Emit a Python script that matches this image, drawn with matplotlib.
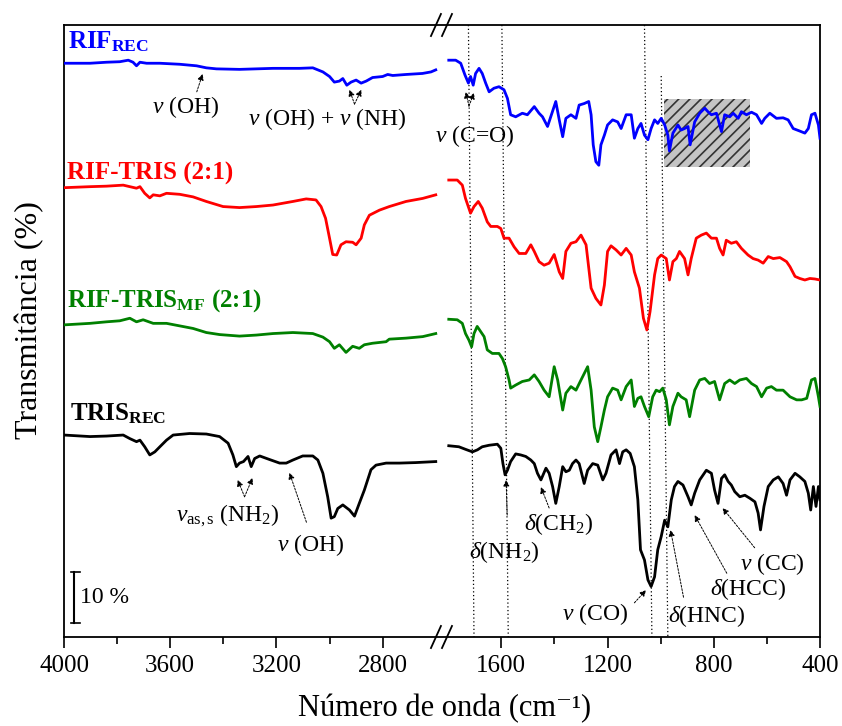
import numpy as np
import matplotlib
matplotlib.use('Agg')
import matplotlib.pyplot as plt
import matplotlib.ticker as mticker
from matplotlib.patches import Rectangle

plt.rcParams['font.family'] = ['Liberation Serif', 'DejaVu Serif']
plt.rcParams['mathtext.fontset'] = 'custom'
plt.rcParams['mathtext.rm'] = 'Liberation Serif'
plt.rcParams['mathtext.it'] = 'Liberation Serif:italic'
plt.rcParams['mathtext.bf'] = 'Liberation Serif:bold'
plt.rcParams['hatch.linewidth'] = 1.2

# ---- spectra: wavenumber (cm-1) and transmittance (%) ----
# high range 4000-2600
rif_hi_wn = [4000, 3902, 3840, 3790, 3758, 3740, 3727, 3714, 3689, 3639, 3564, 3501, 3464, 3426, 3339, 3213,
             3113, 3063, 3025, 3000, 2982, 2963, 2950, 2935, 2919, 2900, 2881, 2862, 2838, 2800, 2781, 2762,
             2712, 2650, 2618, 2600]
rif_hi_t = [100.5, 100.5, 100.7, 100.8, 101.1, 100.7, 100.0, 100.7, 100.5, 100.5, 100.3, 100.0, 99.6, 99.4,
            99.3, 99.5, 99.5, 99.6, 98.8, 97.9, 96.8, 97.0, 97.5, 96.2, 96.8, 97.2, 96.6, 97.0, 97.7, 97.9,
            98.3, 98.1, 98.3, 98.5, 98.8, 99.2]

mix_hi_wn = [4000, 3902, 3840, 3777, 3752, 3727, 3714, 3696, 3677, 3664, 3639, 3614, 3564, 3514, 3464, 3401,
             3339, 3276, 3213, 3138, 3088, 3051, 3032, 3015, 3000, 2988, 2973, 2957, 2938, 2913, 2900, 2881,
             2869, 2850, 2812, 2775, 2712, 2649, 2600]
mix_hi_t = [100.1, 100.3, 100.4, 100.6, 100.3, 100.0, 100.3, 99.0, 98.1, 98.7, 98.5, 99.0, 98.8, 98.3, 97.4,
            96.4, 96.2, 96.4, 96.7, 97.4, 97.9, 97.7, 96.4, 94.1, 90.2, 87.0, 86.9, 88.9, 89.5, 89.4, 88.9,
            90.2, 92.8, 94.7, 95.7, 96.4, 97.4, 98.0, 98.7]

mf_hi_wn = [4000, 3902, 3840, 3790, 3752, 3727, 3702, 3664, 3614, 3564, 3514, 3464, 3414, 3339, 3276, 3213,
            3138, 3063, 3025, 3000, 2982, 2963, 2938, 2913, 2888, 2869, 2838, 2787, 2775, 2712, 2649, 2600]
mf_hi_t = [100.2, 100.5, 100.8, 101.0, 101.5, 100.8, 101.2, 100.5, 100.5, 100.0, 99.5, 98.7, 98.3, 98.0, 98.2,
           98.5, 98.7, 98.5, 97.8, 96.9, 95.6, 96.3, 94.8, 96.0, 95.6, 96.3, 96.6, 96.9, 97.4, 97.6, 97.9, 98.5]

tris_hi_wn = [4000, 3902, 3840, 3777, 3752, 3727, 3714, 3696, 3677, 3658, 3639, 3614, 3589, 3527, 3464, 3414,
              3382, 3364, 3351, 3339, 3324, 3307, 3295, 3282, 3263, 3226, 3188, 3163, 3138, 3101, 3063, 3044,
              3025, 3007, 2994, 2982, 2969, 2950, 2925, 2906, 2888, 2869, 2844, 2825, 2787, 2737, 2675, 2600]
tris_hi_t = [99.6, 99.3, 99.4, 99.6, 98.9, 98.3, 98.6, 97.3, 95.7, 96.3, 97.3, 98.6, 99.6, 99.9, 99.8, 99.3,
             98.0, 95.7, 93.4, 94.1, 94.4, 95.4, 93.4, 95.0, 95.5, 94.8, 94.1, 94.1, 94.7, 95.5, 95.5, 94.7,
             92.1, 87.5, 83.3, 83.6, 85.2, 85.9, 84.9, 83.7, 86.2, 88.8, 92.8, 93.7, 94.1, 94.1, 94.2, 94.4]

# low range 1800-400
rif_lo_wn = [1798, 1772, 1753, 1737, 1724, 1716, 1706, 1697, 1684, 1672, 1659, 1646, 1628, 1609, 1590, 1577,
             1565, 1546, 1521, 1502, 1476, 1458, 1445, 1426, 1414, 1395, 1382, 1369, 1357, 1338, 1319, 1307,
             1288, 1271, 1262, 1254, 1244, 1233, 1225, 1212, 1200, 1181, 1162, 1149, 1130, 1111, 1099, 1086,
             1074, 1061, 1048, 1036, 1023, 1011, 998, 985, 973, 967, 954, 935, 923, 910, 897, 889,
             872, 853, 834, 822, 809, 790, 771, 759, 740, 727, 708, 696, 677, 658, 639, 620,
             608, 589, 564, 539, 520, 501, 476, 457, 444, 432, 419, 406, 400]
rif_lo_t = [101.1, 101.1, 100.5, 98.2, 96.6, 97.9, 96.2, 98.5, 99.5, 98.5, 96.6, 94.9, 95.6, 95.9, 95.3, 93.6,
            90.4, 90.0, 90.7, 90.4, 92.0, 90.7, 90.0, 88.1, 90.0, 93.0, 89.4, 86.1, 89.7, 90.4, 89.7, 92.3,
            92.6, 93.0, 90.4, 84.5, 81.2, 80.5, 84.5, 86.4, 88.4, 89.4, 89.0, 87.7, 90.4, 90.4, 85.8, 87.7,
            88.7, 86.4, 85.5, 87.7, 89.4, 88.7, 89.7, 88.4, 86.4, 83.3, 86.8, 88.4, 87.4, 87.7, 88.1, 84.5,
            89.0, 90.7, 91.7, 91.0, 90.4, 90.7, 87.1, 90.4, 90.0, 90.7, 89.7, 91.0, 90.4, 90.9, 90.4, 88.7,
            89.7, 90.7, 89.7, 89.8, 89.4, 87.7, 87.2, 86.8, 87.7, 90.4, 90.7, 88.4, 85.8]

mix_lo_wn = [1798, 1766, 1747, 1735, 1716, 1703, 1687, 1672, 1653, 1640, 1615, 1602, 1590, 1571, 1552, 1533,
             1508, 1489, 1476, 1458, 1439, 1420, 1401, 1382, 1369, 1357, 1338, 1319, 1300, 1281, 1262, 1244,
             1225, 1212, 1200, 1187, 1168, 1149, 1130, 1111, 1099, 1080, 1065, 1052, 1040, 1023, 1011, 998,
             979, 967, 954, 941, 929, 910, 897, 885, 866, 847, 828, 809, 790, 778, 765, 753,
             734, 715, 696, 671, 652, 633, 614, 595, 576, 551, 526, 513, 494, 476, 457, 438, 419, 400]
mix_lo_t = [101.6, 101.6, 100.6, 98.0, 95.1, 96.4, 97.4, 96.1, 93.4, 92.5, 92.5, 92.1, 90.2, 90.2, 88.5, 87.2,
            87.2, 88.9, 87.6, 85.6, 84.9, 85.3, 87.0, 83.6, 82.3, 87.6, 89.2, 89.5, 90.8, 88.9, 80.4, 78.4,
            77.1, 81.0, 87.6, 88.7, 87.9, 86.9, 88.2, 86.9, 83.6, 80.4, 74.5, 72.2, 75.8, 83.0, 86.2, 86.9,
            86.2, 82.0, 85.6, 86.2, 87.6, 86.2, 83.0, 86.2, 90.2, 90.8, 91.2, 90.2, 90.2, 88.2, 86.9, 89.8,
            89.2, 89.5, 88.2, 86.9, 86.2, 85.9, 85.3, 86.6, 86.2, 86.4, 85.6, 84.6, 82.7, 82.3, 82.0, 82.3, 82.2, 82.0]

mf_lo_wn = [1798, 1766, 1747, 1735, 1722, 1712, 1703, 1691, 1678, 1665, 1653, 1634, 1609, 1596, 1584, 1571,
            1565, 1546, 1521, 1495, 1476, 1458, 1439, 1420, 1401, 1388, 1369, 1357, 1338, 1319, 1300, 1275,
            1262, 1250, 1237, 1225, 1212, 1200, 1181, 1162, 1149, 1130, 1111, 1099, 1086, 1074, 1061, 1045,
            1030, 1017, 1004, 992, 979, 967, 954, 935, 923, 904, 891, 872, 853, 834, 816, 797,
            778, 759, 740, 721, 702, 677, 658, 639, 620, 601, 583, 564, 539, 513, 488, 469, 450, 432, 419, 406, 400]
mf_lo_t = [101.3, 101.2, 100.5, 98.5, 97.2, 95.9, 98.5, 99.9, 98.9, 97.9, 95.3, 94.6, 94.6, 93.6, 92.0, 89.4,
           87.8, 88.4, 89.1, 89.4, 90.4, 89.1, 87.4, 86.1, 92.0, 89.4, 83.5, 86.8, 88.1, 87.4, 89.4, 92.0,
           87.4, 80.2, 77.3, 80.2, 83.5, 86.1, 87.8, 87.4, 85.5, 88.1, 89.4, 84.2, 85.8, 86.1, 84.2, 82.2,
           86.1, 87.4, 87.1, 87.8, 85.5, 80.6, 84.2, 86.8, 86.1, 85.5, 82.2, 87.4, 89.4, 89.7, 88.7, 89.1,
           85.5, 88.7, 89.4, 88.7, 89.4, 89.7, 88.7, 88.1, 86.1, 87.8, 88.1, 87.4, 87.4, 86.1, 85.5, 85.5,
           85.8, 89.4, 89.7, 86.1, 84.2]

tris_lo_wn = [1798, 1760, 1735, 1709, 1690, 1672, 1646, 1615, 1602, 1594, 1586, 1577, 1565, 1546, 1527, 1508,
              1489, 1476, 1464, 1451, 1432, 1420, 1407, 1395, 1382, 1369, 1357, 1344, 1332, 1319, 1307, 1288,
              1275, 1256, 1237, 1218, 1206, 1187, 1168, 1155, 1143, 1130, 1115, 1099, 1086, 1076, 1061, 1048,
              1036, 1023, 1011, 998, 985, 973, 960, 948, 935, 916, 897, 885, 872, 853, 828, 809,
              797, 784, 771, 759, 746, 734, 721, 702, 683, 664, 645, 633, 624, 611, 595, 576,
              557, 539, 526, 513, 494, 476, 457, 444, 435, 425, 415, 406, 400]
tris_lo_t = [97.5, 97.3, 96.8, 96.3, 96.7, 97.3, 97.6, 97.8, 97.0, 94.0, 91.8, 92.7, 94.4, 95.9, 95.7, 95.4,
             94.7, 94.0, 92.1, 90.8, 93.1, 92.1, 89.5, 86.2, 89.5, 93.4, 92.4, 92.7, 94.0, 94.7, 94.0, 90.1,
             92.7, 94.0, 93.7, 90.8, 92.1, 95.7, 96.7, 94.0, 96.3, 96.7, 96.0, 93.4, 86.9, 77.1, 75.1, 71.2,
             69.9, 71.8, 77.1, 79.7, 82.9, 81.6, 86.9, 89.5, 90.5, 89.8, 87.5, 85.9, 88.2, 90.8, 92.7, 92.1,
             88.8, 86.2, 91.1, 91.8, 90.5, 89.8, 88.5, 87.5, 87.8, 87.2, 86.5, 84.3, 81.0, 85.6, 89.5, 90.8,
             91.4, 90.1, 87.8, 90.8, 92.1, 91.4, 90.5, 88.2, 84.9, 89.5, 85.6, 89.5, 86.9]

# vertical stacking of the traces (in % units)
offsets = [12, -12, -39, -60]
colors = ['#0000ff', '#ff0000', '#008000', '#000000']
names = [r'RIF$_{\mathbf{REC}}$', 'RIF-TRIS (2:1)', r'RIF-TRIS$_{\mathbf{MF}}$ (2:1)', r'TRIS$_{\mathbf{REC}}$']
name_pos = [(3985, 115.5), (3988, 89.6), (3988, 64.8), (3977, 42.5)]

# marked bands (dotted guide lines, top and bottom ends)
band_top = [1724, 1598, 1061, 998]
band_bot = [1703, 1574, 1033, 973]
band_ytop = [120, 120, 120, 110]

# broken x axis: 4000-2600 | 1800-400
GAP = 47.0


def fwd(x):
    x = np.asarray(x, dtype=float)
    return np.where(x <= 1800, x,
                    np.where(x >= 2600, x - 800 + GAP, 1800 + (x - 1800) * GAP / 800))


def inv(p):
    p = np.asarray(p, dtype=float)
    return np.where(p <= 1800, p,
                    np.where(p >= 1800 + GAP, p + 800 - GAP, 1800 + (p - 1800) * 800 / GAP))


fig = plt.figure(figsize=(8.42, 7.26), dpi=100)
ax = fig.add_axes([64 / 842, 89 / 726, 756 / 842, 612 / 726])
ax.set_xscale('function', functions=(fwd, inv))
ax.set_xlim(4000, 400)
ax.set_ylim(0, 120)

segments = [(rif_hi_wn, rif_hi_t, rif_lo_wn, rif_lo_t),
            (mix_hi_wn, mix_hi_t, mix_lo_wn, mix_lo_t),
            (mf_hi_wn, mf_hi_t, mf_lo_wn, mf_lo_t),
            (tris_hi_wn, tris_hi_t, tris_lo_wn, tris_lo_t)]

for (hw, ht, lw_, lt), off, c, name, (nx, ny) in zip(segments, offsets, colors, names, name_pos):
    ax.plot(hw, np.array(ht) + off, color=c, lw=2.0, zorder=3)
    ax.plot(lw_, np.array(lt) + off, color=c, lw=2.0, zorder=3)
    ax.text(nx, ny, name, color=c, fontsize=18, fontweight='bold', ha='left', va='baseline')

for xt, xb, yt in zip(band_top, band_bot, band_ytop):
    ax.plot([xt, xb], [yt, 0], color='black', lw=0.9, ls=(0, (1, 2)), zorder=1)

# hatched region on the RIF spectrum
ax.add_patch(Rectangle((665, 92.2), 324, 13.3, facecolor='#c4c4c4', edgecolor='#333333',
                       hatch='///', lw=0, zorder=2))

# 10 % scale bar
ax.plot([3962, 3962], [2.7, 12.7], color='black', lw=1.5)
ax.plot([3972, 3940], [12.7, 12.7], color='black', lw=1.2)
ax.plot([3972, 3940], [2.7, 2.7], color='black', lw=1.2)
ax.text(3938, 7.7, '10 %', fontsize=17, ha='left', va='center')

# band assignments
arrow = dict(arrowstyle='-|>', color='black', lw=0.7, ls=(0, (2, 1.5)),
             mutation_scale=9, shrinkA=0, shrinkB=0)
notes = [
    (r'$\nu$ (OH)', (3542, 102.8), (3500, 106.9), [(3478, 110.4)]),
    (r'$\nu$ (OH) + $\nu$ (NH)', (3008, 100.4), (2906, 104.5), [(2925, 107.3), (2880, 107.3)]),
    (r'$\nu$ (C=O)', (1699, 97.1), (1722, 104.1), [(1734, 106.9), (1703, 106.7)]),
    (r'$\nu_{\rm as,s}$ (NH$_2$)', (3384, 22.6), (3320, 27.5), [(3346, 30.8), (3290, 31.2)]),
    (r'$\nu$ (OH)', (3072, 16.9), (3087, 22.5), [(3151, 32.2)]),
    (r'$\delta$(NH$_2$)', (1588, 15.4), (1578, 23.9), [(1582, 30.8)]),
    (r'$\delta$(CH$_2$)', (1385, 21.0), (1420, 25.3), [(1451, 29.4)]),
    (r'$\nu$ (CO)', (1246, 3.3), (1099, 6.7), [(1055, 9.2)]),
    (r'$\delta$(HNC)', (825, 3.0), (914, 7.8), [(963, 21.0)]),
    (r'$\delta$(HCC)', (670, 8.2), (751, 12.5), [(872, 23.9)]),
    (r'$\nu$ (CC)', (579, 13.1), (646, 17.5), [(767, 25.3)]),
]
for txt, (tx, ty), start, tips in notes:
    ax.text(tx, ty, txt, fontsize=17, ha='center', va='baseline')
    for tip in tips:
        ax.annotate('', xy=tip, xytext=start, arrowprops=arrow)

# axis decoration
ax.xaxis.set_major_locator(mticker.FixedLocator([4000, 3600, 3200, 2800, 1600, 1200, 800, 400]))
ax.xaxis.set_minor_locator(mticker.FixedLocator([3800, 3400, 3000, 1400, 1000, 600]))
ax.xaxis.set_major_formatter(mticker.FormatStrFormatter('%d'))
ax.xaxis.set_minor_formatter(mticker.NullFormatter())
ax.tick_params(axis='x', which='major', direction='out', length=8, width=1.2, labelsize=18, pad=5)
ax.tick_params(axis='x', which='minor', direction='out', length=5, width=1.2)
ax.tick_params(axis='y', left=False, labelleft=False)
for sp in ax.spines.values():
    sp.set_linewidth(1.3)

ax.set_xlabel('Número de onda (cm⁻¹)', fontsize=22)
ax.xaxis.set_label_coords(0.503, -0.093)
ax.set_ylabel('Transmitância (%)', fontsize=23)
ax.yaxis.set_label_coords(-0.026, 0.518)

# axis break marks
for y0 in (0.0, 1.0):
    for xc in (0.492, 0.5066):
        ax.plot([xc - 0.0066, xc + 0.0066], [y0 - 0.018, y0 + 0.018], transform=ax.transAxes,
                color='black', lw=1.3, clip_on=False)

fig.savefig('out.png', dpi=100)
